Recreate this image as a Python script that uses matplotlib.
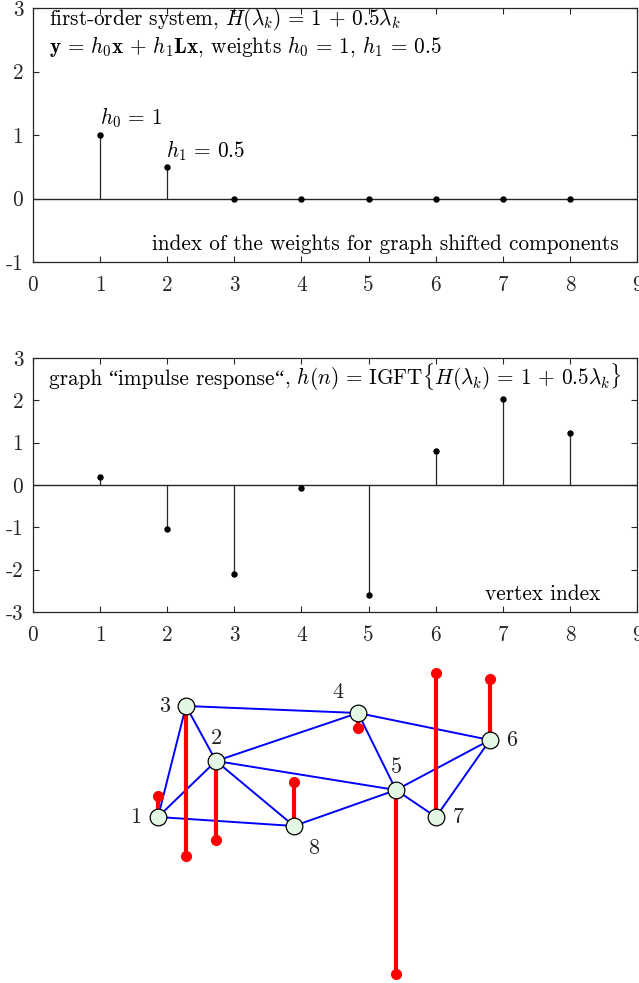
import matplotlib
matplotlib.use("Agg")
import matplotlib.pyplot as plt
from matplotlib.offsetbox import TextArea, HPacker, AnchoredOffsetbox
import numpy as np

plt.rcParams['font.family'] = ['cmr10', 'Liberation Serif', 'DejaVu Serif']
plt.rcParams['mathtext.fontset'] = 'cm'
plt.rcParams['axes.formatter.use_mathtext'] = True

# ---- data ----
n_idx = np.arange(1, 9)
weights = [1.0, 0.5, 0, 0, 0, 0, 0, 0]                       # h_0, h_1, then zeros
impulse = [0.2, -1.05, -2.1, -0.08, -2.6, 0.8, 2.02, 1.24]   # h(n)

xticks = list(range(0, 10))
yticks_top = [-1, 0, 1, 2, 3]
yticks_mid = [-3, -2, -1, 0, 1, 2, 3]

# graph layout (vertex positions) and edges
node_x = [158, 216, 186, 358, 396, 490, 436, 294]
node_y = [817, 761, 706, 713, 790, 740, 817, 826]
edges = [(1, 3), (1, 2), (1, 8), (3, 2), (3, 4), (2, 4), (2, 5), (2, 8),
         (8, 5), (4, 5), (4, 6), (5, 6), (5, 7), (6, 7)]
vertex_signal = [0.30, -1.11, -2.11, -0.21, -2.59, 0.86, 2.03, 0.62]
signal_scale = 71.0
label_dx = [-22, 0, -21, -20, 0, 22, 22, 20]
label_dy = [0, -23, 0, -21, -23, 0, 0, 22]

FS = 15.3
W, H = 639, 983
fig = plt.figure(figsize=(W / 100, H / 100), dpi=100)

def style_axes(ax, yticks):
    ax.set_xlim(0, 9)
    ax.set_ylim(yticks[0], yticks[-1])
    ax.set_xticks(xticks)
    ax.set_xticklabels([str(t) for t in xticks])
    ax.set_yticks(yticks)
    ax.set_yticklabels([str(t) for t in yticks])
    ax.tick_params(direction='in', top=True, right=True, length=4.5,
                   width=0.8, labelsize=FS, colors='#262626')
    ax.tick_params(axis='x', pad=10)
    ax.tick_params(axis='y', pad=7)
    for s in ax.spines.values():
        s.set_linewidth(0.9)
        s.set_color('#262626')

def stems(ax, x, y):
    ax.axhline(0, color='#262626', lw=1.0, zorder=2)
    ax.vlines(x, 0, y, color='#262626', lw=0.9, zorder=2)
    ax.plot(x, y, 'o', color='black', ms=3.6, zorder=3)

# ---- top panel: filter weights ----
ax1 = fig.add_axes([33 / W, 1 - 262 / H, 604 / W, 254 / H])
style_axes(ax1, yticks_top)
stems(ax1, n_idx, weights)
ax1.text(0.026, 0.953,
         r'first-order system, $H(\lambda_k)\,=\,1\,+\,0.5\lambda_k$',
         transform=ax1.transAxes, fontsize=FS, va='center', ha='left')
ax1.text(0.026, 0.846,
         r'$\mathbf{y}\,=\,h_0\mathbf{x}\,+\,h_1\mathbf{L}\mathbf{x}$, weights '
         r'$h_0\,=\,1$, $h_1\,=\,0.5$',
         transform=ax1.transAxes, fontsize=FS, va='center', ha='left')
ax1.text(1.0, weights[0] + 0.27, r'$h_0\,=\,1$', fontsize=FS,
         va='center', ha='left')
ax1.text(1.98, weights[1] + 0.26, r'$h_1\,=\,0.5$', fontsize=FS,
         va='center', ha='left')
ax1.text(8.73, -0.72, 'index of the weights for graph shifted components',
         fontsize=FS, va='center', ha='right')

# ---- middle panel: graph impulse response ----
ax2 = fig.add_axes([33 / W, 1 - 612 / H, 604 / W, 254 / H])
style_axes(ax2, yticks_mid)
stems(ax2, n_idx, impulse)

cm_props = dict(fontsize=FS, family='cmr10', color='black')
q_props = dict(fontsize=FS, family='Liberation Serif', color='black')
title_parts = [
    TextArea('graph ', textprops=cm_props),
    TextArea('\u201c', textprops=q_props),
    TextArea('impulse response', textprops=cm_props),
    TextArea('\u201c', textprops=q_props),
    TextArea(r', $h(n)\,=\,\mathrm{IGFT}\{H(\lambda_k)\,=\,1\,+\,0.5\lambda_k\}$',
             textprops=cm_props),
]
title_box = HPacker(children=title_parts, align='baseline', pad=0, sep=0)
ax2.add_artist(AnchoredOffsetbox(loc='center left', child=title_box,
                                 frameon=False, pad=0, borderpad=0,
                                 bbox_to_anchor=(0.026, 0.925),
                                 bbox_transform=ax2.transAxes))
ax2.text(8.46, -2.58, 'vertex index', fontsize=FS, va='center', ha='right')

# ---- bottom: graph with the impulse response drawn on vertices ----
ax3 = fig.add_axes([0, 0, 1, 1], zorder=-1)
ax3.set_xlim(0, W)
ax3.set_ylim(H, 0)
ax3.axis('off')

for a, b in edges:
    ax3.plot([node_x[a - 1], node_x[b - 1]], [node_y[a - 1], node_y[b - 1]],
             color='#0000ff', lw=1.4, zorder=1, solid_capstyle='round')

for i in range(8):
    tip = node_y[i] - vertex_signal[i] * signal_scale
    ax3.plot([node_x[i], node_x[i]], [node_y[i], tip], color='#ff0000',
             lw=3.0, zorder=2, solid_capstyle='butt')
    ax3.plot(node_x[i], tip, 'o', color='#ff0000', ms=7, zorder=2)

ax3.plot(node_x, node_y, 'o', ms=12, mfc='#e4f7e4', mec='black', mew=0.9,
         zorder=3, ls='none')

for i in range(8):
    ax3.text(node_x[i] + label_dx[i], node_y[i] + label_dy[i], str(i + 1),
             fontsize=16, ha='center', va='center', color='#222222', zorder=4)

fig.savefig('out.png', dpi=100)
